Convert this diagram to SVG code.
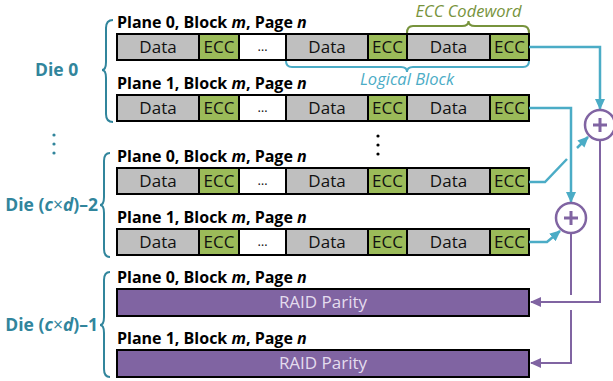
<svg xmlns="http://www.w3.org/2000/svg" width="613" height="381" viewBox="0 0 613 381">
<defs>
<style>
.lbl{font-family:"Open Sans","Liberation Sans",sans-serif;font-size:16px;font-weight:bold;fill:#000}
.die{font-family:"Open Sans","Liberation Sans",sans-serif;font-size:17.5px;font-weight:bold;fill:#31859C}
.cell{font-family:"Open Sans","Liberation Sans",sans-serif;font-size:17px;fill:#111;text-anchor:middle}
.raidt{font-family:"Open Sans","Liberation Sans",sans-serif;font-size:17px;fill:#E4DCEE;text-anchor:middle}
.data{fill:#BFBFBF;stroke:#000;stroke-width:2}
.ecc{fill:#9BBB59;stroke:#000;stroke-width:2}
.gap{fill:#fff;stroke:#000;stroke-width:2}
.raid{fill:#8064A2;stroke:#000;stroke-width:2}
.brace{fill:none;stroke:#31859C;stroke-width:2}
.teal{fill:none;stroke:#4BACC6;stroke-width:2.5}
.purp{fill:none;stroke:#8064A2;stroke-width:2}
.xor{fill:#fff;stroke:#8064A2;stroke-width:2.5}
.plus{stroke:#8064A2;stroke-width:3}
</style>
<marker id="at" markerWidth="11" markerHeight="10" refX="10" refY="5" orient="auto" markerUnits="userSpaceOnUse"><path d="M0,0 L11,5 L0,10 Z" fill="#4BACC6"/></marker>
<marker id="ap" markerWidth="11" markerHeight="10" refX="10" refY="5" orient="auto" markerUnits="userSpaceOnUse"><path d="M0,0 L11,5 L0,10 Z" fill="#8064A2"/></marker>
<g id="rowtpl">
<rect class="data" x="117" y="0" width="82" height="26"/>
<rect class="ecc" x="199" y="0" width="40" height="26"/>
<rect class="gap" x="239" y="0" width="47" height="26"/>
<rect class="data" x="286" y="0" width="82" height="26"/>
<rect class="ecc" x="368" y="0" width="39" height="26"/>
<rect class="data" x="407" y="0" width="83" height="26"/>
<rect class="ecc" x="490" y="0" width="39" height="26"/>
<text class="cell" x="158" y="19">Data</text>
<text class="cell" x="219" y="19">ECC</text>
<text class="cell" x="262.5" y="17" style="font-size:13px">…</text>
<text class="cell" x="327" y="19">Data</text>
<text class="cell" x="387.5" y="19">ECC</text>
<text class="cell" x="448.5" y="19">Data</text>
<text class="cell" x="509.5" y="19">ECC</text>
</g>
</defs>

<g id="die0">
<text class="die" x="35" y="76" font-size="18">Die 0</text>
<path class="brace" d="M113,20 Q106,20 106,28 L106,62 Q106,70 102,70 Q106,70 106,78 L106,114 Q106,122 113,122"/>
</g>
<g id="die0-plane0">
<text class="lbl" x="117" y="28">Plane 0, Block <tspan font-style="italic">m</tspan>, Page <tspan font-style="italic">n</tspan></text>
<use href="#rowtpl" y="34"/>
</g>
<g id="die0-plane1">
<text class="lbl" x="117" y="89">Plane 1, Block <tspan font-style="italic">m</tspan>, Page <tspan font-style="italic">n</tspan></text>
<use href="#rowtpl" y="95"/>
</g>

<g id="ecc-codeword">
<text x="468.5" y="17" text-anchor="middle" font-family="Open Sans, Liberation Sans, sans-serif" font-size="16.5" font-style="italic" fill="#77933C">ECC Codeword</text>
<path d="M407,33 Q407,26 413,26 L462,26 Q468.5,26 468.5,21 Q468.5,26 475,26 L523,26 Q529,26 529,33" fill="none" stroke="#77933C" stroke-width="2"/>
</g>
<g id="logical-block">
<path d="M286,61 Q286,67 292,67 L401,67 Q407,67 407,72 Q407,67 413,67 L523,67 Q529,67 529,61" fill="none" stroke="#4BACC6" stroke-width="2"/>
<text x="407" y="85" text-anchor="middle" font-family="Open Sans, Liberation Sans, sans-serif" font-size="16.5" font-style="italic" fill="#4BACC6">Logical Block</text>
</g>

<g id="vdots-left" fill="#31859C">
<circle cx="54" cy="135" r="1.6"/><circle cx="54" cy="144" r="1.6"/><circle cx="54" cy="153" r="1.6"/>
</g>
<g id="vdots-mid" fill="#000">
<circle cx="378" cy="136" r="1.6"/><circle cx="378" cy="145" r="1.6"/><circle cx="378" cy="154" r="1.6"/>
</g>

<g id="die2">
<text class="die" x="98" y="211" text-anchor="end">Die (<tspan font-style="italic">c</tspan><tspan font-weight="normal">×</tspan><tspan font-style="italic">d</tspan>)–2</text>
<path class="brace" d="M110,153 Q104,153 104,161 L104,197 Q104,205 100,205 Q104,205 104,213 L104,249 Q104,257 110,257"/>
</g>
<g id="die2-plane0">
<text class="lbl" x="117" y="162">Plane 0, Block <tspan font-style="italic">m</tspan>, Page <tspan font-style="italic">n</tspan></text>
<use href="#rowtpl" y="168"/>
</g>
<g id="die2-plane1">
<text class="lbl" x="117" y="223">Plane 1, Block <tspan font-style="italic">m</tspan>, Page <tspan font-style="italic">n</tspan></text>
<use href="#rowtpl" y="229"/>
</g>

<g id="die1">
<text class="die" x="98" y="331" text-anchor="end">Die (<tspan font-style="italic">c</tspan><tspan font-weight="normal">×</tspan><tspan font-style="italic">d</tspan>)–1</text>
<path class="brace" d="M110,272 Q104,272 104,280 L104,317 Q104,325 100,325 Q104,325 104,333 L104,369 Q104,377 110,377"/>
</g>
<g id="die1-plane0">
<text class="lbl" x="117" y="283">Plane 0, Block <tspan font-style="italic">m</tspan>, Page <tspan font-style="italic">n</tspan></text>
<rect class="raid" x="117" y="289" width="412" height="27"/>
<text class="raidt" x="323" y="308">RAID Parity</text>
</g>
<g id="die1-plane1">
<text class="lbl" x="117" y="344">Plane 1, Block <tspan font-style="italic">m</tspan>, Page <tspan font-style="italic">n</tspan></text>
<rect class="raid" x="117" y="350" width="412" height="27"/>
<text class="raidt" x="323" y="369">RAID Parity</text>
</g>

<g id="connectors">
<path class="teal" d="M529,47 H600 V109" marker-end="url(#at)"/>
<path class="teal" d="M529,108 H571 V202" marker-end="url(#at)"/>
<path class="teal" d="M529,182 H545 L567,159"/>
<path class="teal" d="M577,148 L588,137" marker-end="url(#at)"/>
<path class="teal" d="M529,242 H547 L560,231" marker-end="url(#at)"/>
<path class="purp" d="M600,140 V302 H531" marker-end="url(#ap)"/>
<path class="purp" d="M571,233 V295"/>
<path class="purp" d="M571,310 V363 H531" marker-end="url(#ap)"/>
</g>

<g id="xor-top">
<circle class="xor" cx="600" cy="125" r="15"/>
<path class="plus" d="M593,125 H607 M600,118 V132"/>
</g>
<g id="xor-bottom">
<circle class="xor" cx="571" cy="218" r="15"/>
<path class="plus" d="M564,218 H578 M571,211 V225"/>
</g>
</svg>
